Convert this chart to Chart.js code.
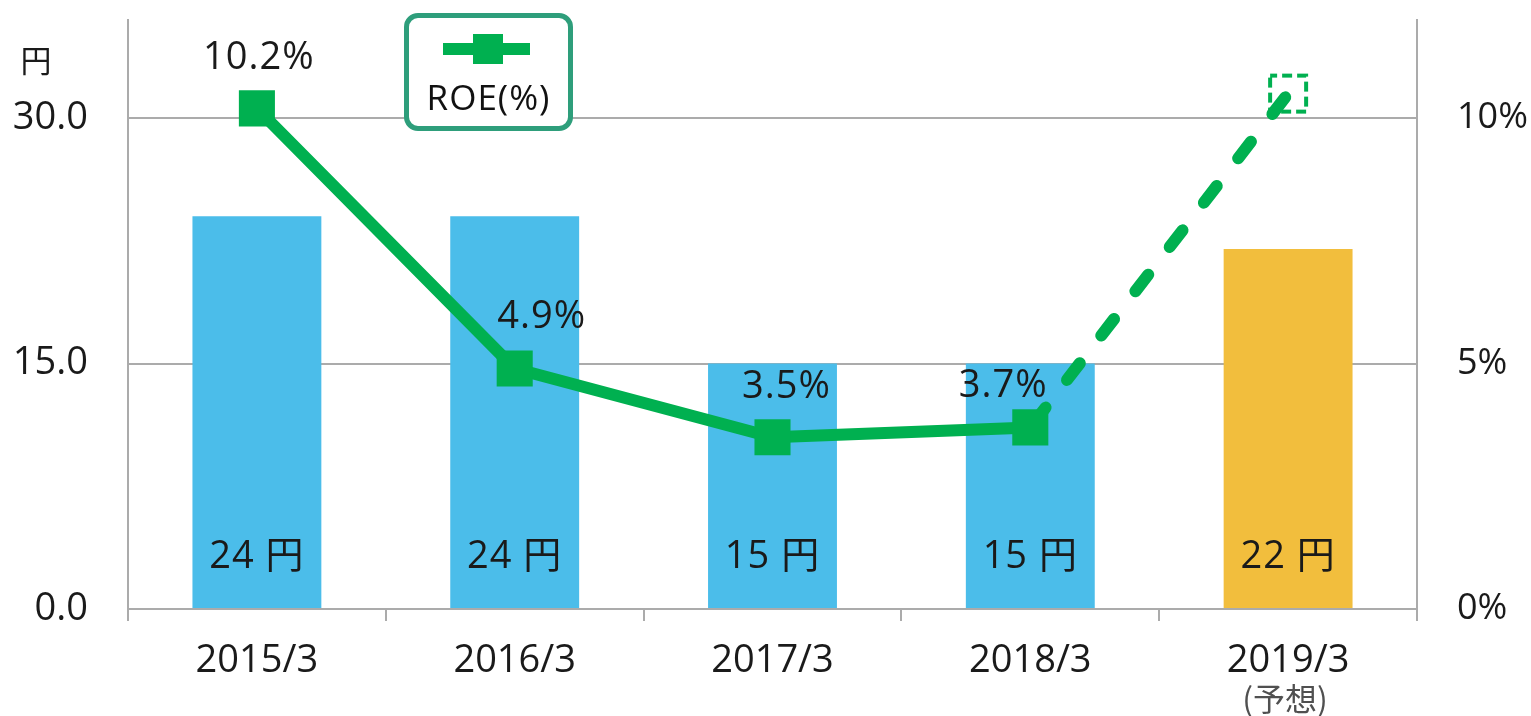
<!DOCTYPE html>
<html>
<head>
<meta charset="utf-8">
<script src="https://cdn.jsdelivr.net/npm/chart.js@4/dist/chart.umd.min.js"></script>
<style>
  html, body { margin: 0; padding: 0; background: #fff; overflow: hidden; }
  #wrap { position: relative; width: 1531px; height: 716px; }
  #legend-box {
    position: absolute; left: 404px; top: 13px; width: 169px; height: 118px;
    box-sizing: border-box; border: 5px solid #2E9E7B; border-radius: 14px; background: #fff;
  }
  #legend-line { position: absolute; left: 443px; top: 43px; width: 87px; height: 12px; background: #00B050; }
  #legend-mark { position: absolute; left: 473px; top: 34px; width: 30px; height: 30px; background: #00B050; }
  #legend-text {
    position: absolute; left: 404px; top: 76px; width: 169px; text-align: center;
    font: 35px 'Open Sans', 'Noto Sans CJK JP', sans-serif; letter-spacing: 1px; color: #111; line-height: 42px;
  }
</style>
</head>
<body>
<div id="wrap">
  <canvas id="chart" width="1531" height="716"></canvas>
  <div id="legend-box"></div>
  <div id="legend-line"></div>
  <div id="legend-mark"></div>
  <div id="legend-text">ROE(%)</div>
</div>
<script>
// --- data ---
const categories = ['2015/3', '2016/3', '2017/3', '2018/3', '2019/3'];
const categoryNotes = ['', '', '', '', '(予想)'];
const dividends = [24, 24, 15, 15, 22];          // 円
const roe = [10.2, 4.9, 3.5, 3.7, 10.5];          // %
const roeLabels = ['10.2%', '4.9%', '3.5%', '3.7%', ''];
const yTicks = [0, 15, 30];
const y1Ticks = [0, 5, 10];

// --- style ---
const FONT = "'Open Sans', 'Noto Sans CJK JP', sans-serif";
const CJK = "'Noto Sans CJK JP', sans-serif";
const GRID = '#ABABAB';
const GREEN = '#00B050';
const barColors = ['#4BBDEA', '#4BBDEA', '#4BBDEA', '#4BBDEA', '#F2BE3D'];
const roeLabelOffsets = [[2, -50], [27, -51], [14, -50], [-27, -41], [0, 0]];

// hollow dashed square for the forecast point
function forecastMarker() {
    const c = document.createElement('canvas');
    c.width = 42; c.height = 42;
    const g = c.getContext('2d');
    g.strokeStyle = GREEN;
    g.lineWidth = 4;
    g.setLineDash([10, 5]);
    g.lineDashOffset = 3;
    g.strokeRect(3, 3, 36, 36);
    return c;
}

// drop the label half-height padding so the plot area starts right at the top padding
function noPad(s) {
    s.paddingTop = 0;
    s.paddingBottom = 0;
}

const textPlugin = {
    id: 'textPlugin',
    afterDatasetsDraw(chart) {
        const ctx = chart.ctx;
        const xs = chart.scales.x, ys = chart.scales.y;
        const base = ys.getPixelForValue(0);
        ctx.save();
        ctx.textAlign = 'center';
        ctx.textBaseline = 'middle';
        ctx.fillStyle = '#1a1a1a';
        ctx.font = '38px ' + FONT;
        ctx.letterSpacing = '1px';

        // bar values
        chart.getDatasetMeta(0).data.forEach((bar, i) => {
            ctx.fillText(dividends[i] + ' 円', bar.x, base - 52);
        });

        // ROE values
        chart.getDatasetMeta(1).data.forEach((pt, i) => {
            if (!roeLabels[i]) return;
            const [dx, dy] = roeLabelOffsets[i];
            ctx.fillText(roeLabels[i], pt.x + dx, pt.y + dy);
        });
        ctx.letterSpacing = '0px';

        // unit above left axis
        ctx.font = '31px ' + CJK;
        ctx.fillText('円', 36, 60);

        // notes under category labels
        ctx.font = '32px ' + CJK;
        ctx.fillStyle = '#505050';
        categoryNotes.forEach((n, i) => {
            if (n) ctx.fillText(n, xs.getPixelForValue(i) - 3, base + 90);
        });
        ctx.restore();
    }
};

new Chart(document.getElementById('chart'), {
    data: {
        labels: categories,
        datasets: [
            {
                type: 'bar',
                data: dividends,
                backgroundColor: barColors,
                categoryPercentage: 1,
                barPercentage: 0.5,
                yAxisID: 'y',
                order: 2
            },
            {
                type: 'line',
                data: roe,
                yAxisID: 'y1',
                borderColor: GREEN,
                borderWidth: 12,
                borderJoinStyle: 'round',
                tension: 0,
                pointStyle: ['rect', 'rect', 'rect', 'rect', forecastMarker()],
                pointRadius: 25.5,
                pointBackgroundColor: GREEN,
                pointBorderWidth: 0,
                segment: {
                    // forecast leg is dashed
                    borderDash: c => c.p1DataIndex === 4 ? [21, 35] : undefined,
                    borderDashOffset: c => c.p1DataIndex === 4 ? -4 : undefined,
                    borderCapStyle: c => c.p1DataIndex === 4 ? 'round' : undefined
                },
                clip: false,
                order: 1
            }
        ]
    },
    options: {
        responsive: false,
        devicePixelRatio: 1,
        animation: false,
        events: [],
        layout: { autoPadding: false, padding: { top: 20, left: 0, right: 0, bottom: 0 } },
        plugins: { legend: { display: false }, tooltip: { enabled: false } },
        scales: {
            x: {
                offset: true,
                grid: { offset: true, drawOnChartArea: false, drawTicks: true, tickLength: 12, color: GRID, lineWidth: 2 },
                border: { display: true, color: GRID, width: 2 },
                ticks: { color: '#1a1a1a', font: { family: FONT, size: 38 }, padding: 17, maxRotation: 0 },
                afterFit: s => { s.height = 107; s.paddingLeft = 0; s.paddingRight = 0; }
            },
            y: {
                position: 'left',
                min: 0, max: 36,
                afterBuildTicks: s => { s.ticks = yTicks.map(v => ({ value: v })); },
                grid: { color: GRID, lineWidth: 2, drawTicks: false },
                border: { display: true, color: GRID, width: 2 },
                ticks: { color: '#1a1a1a', font: { family: FONT, size: 38 }, padding: 40, callback: v => v.toFixed(1) },
                afterFit: s => { s.width = 128; noPad(s); }
            },
            y1: {
                position: 'right',
                min: 0, max: 12,
                afterBuildTicks: s => { s.ticks = y1Ticks.map(v => ({ value: v })); },
                grid: { drawOnChartArea: false, drawTicks: false },
                border: { display: true, color: GRID, width: 2 },
                ticks: { color: '#1a1a1a', font: { family: FONT, size: 36 }, padding: 40, callback: v => v + '%' },
                afterFit: s => { s.width = 114; noPad(s); }
            }
        }
    },
    plugins: [textPlugin]
});
</script>
</body>
</html>
